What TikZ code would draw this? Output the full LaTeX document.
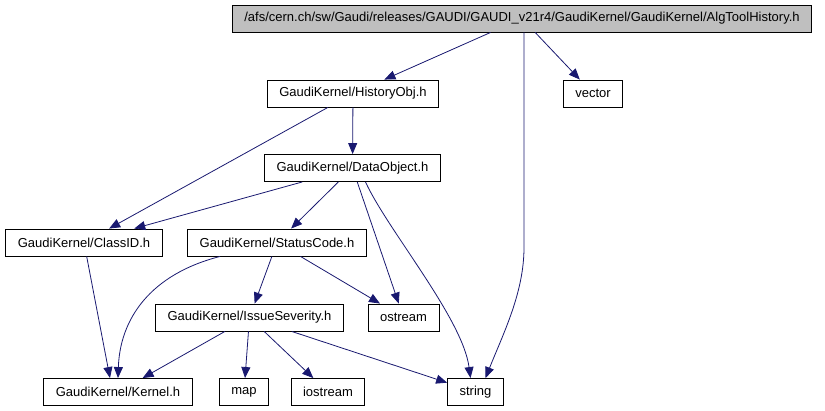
\documentclass[tikz,border=0pt]{standalone}
\usepackage{fontspec}
\setmainfont{Liberation Sans}
\usetikzlibrary{arrows.meta,calc}
\definecolor{edgeBlue}{RGB}{25,25,112}
\definecolor{headGray}{RGB}{191,191,191}

\begin{document}
\begin{tikzpicture}[x=1pt,y=-1pt,
    file/.style={draw=black,line width=0.9pt,fill=white,inner xsep=12pt,inner ysep=0pt,
      minimum height=27pt,font=\fontsize{13}{15}\selectfont},
    dep/.style={edgeBlue,line width=0.8pt,-{Triangle[length=11pt,width=9pt]}}]
  \useasboundingbox (0,0) rectangle (825,410);
  % files
  \node[file,fill=headGray] (algtool) at (522,18.5) {/afs/cern.ch/sw/Gaudi/releases/GAUDI/GAUDI\_v21r4/GaudiKernel/GaudiKernel/AlgToolHistory.h};
  \node[file] (historyobj) at (353,93.5) {GaudiKernel/HistoryObj.h};
  \node[file] (vector) at (593,93.5) {vector};
  \node[file] (dataobject) at (352.5,168) {GaudiKernel/DataObject.h};
  \node[file] (classid) at (84,242.5) {GaudiKernel/ClassID.h};
  \node[file] (statuscode) at (277,242.5) {GaudiKernel/StatusCode.h};
  \node[file] (issuesev) at (249.5,317.5) {GaudiKernel/IssueSeverity.h};
  \node[file] (ostream) at (403.5,317.5) {ostream};
  \node[file] (kernel) at (118,392) {GaudiKernel/Kernel.h};
  \node[file] (map) at (244,392) {map};
  \node[file] (iostream) at (328,392) {iostream};
  \node[file] (string) at (475.5,392) {string};
  % includes
  \draw[dep] (algtool) -- (historyobj);
  \draw[dep] (algtool) -- (vector);
  \draw[dep] ($(algtool.south)+(2,0)$) -- ++(0,215) .. controls +(0,45) and +(18,-45) .. ($(string.north)+(10,0)$);
  \draw[dep] (historyobj) -- (dataobject);
  \draw[dep] (historyobj) -- (classid);
  \draw[dep] (dataobject) -- (classid);
  \draw[dep] (dataobject) -- (statuscode);
  \draw[dep] (dataobject) -- (ostream);
  \draw[dep] ($(dataobject.south)+(13,0)$) .. controls +(22,48) and +(-8,-60) .. ($(string.north)+(-5,0)$);
  \draw[dep] (classid) -- ($(kernel.north)+(-8,0)$);
  \draw[dep] ($(statuscode.south)+(-57,0)$) .. controls +(-70,18) and +(2,-59) .. (kernel.north);
  \draw[dep] (statuscode) -- (issuesev);
  \draw[dep] (statuscode) -- (ostream);
  \draw[dep] (issuesev) -- (kernel);
  \draw[dep] (issuesev) -- (map);
  \draw[dep] (issuesev) -- (iostream);
  \draw[dep] (issuesev) -- (string);
\end{tikzpicture}
\end{document}
